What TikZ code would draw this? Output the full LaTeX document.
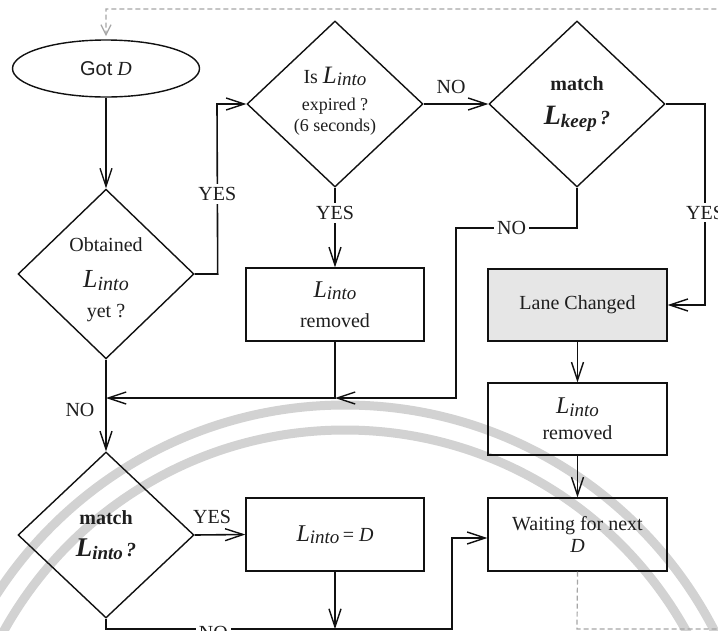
\documentclass[tikz,border=0pt]{standalone}
\usepackage{fontspec}
\setmainfont{Liberation Serif}
\newfontfamily\arialfont{Liberation Sans}
\usetikzlibrary{shapes.geometric,arrows.meta}
\definecolor{txt}{HTML}{1E1E1E}
\definecolor{ln}{HTML}{111111}
\definecolor{boxgray}{HTML}{E6E6E6}
\definecolor{dashgray}{HTML}{A6A6A6}
\definecolor{wmgray}{HTML}{D2D2D2}
\newcommand{\Lsub}[3]{{\fontsize{#1}{#1}\selectfont L}\raisebox{-2.5pt}{\fontsize{#2}{#2}\selectfont #3}}
\begin{document}
\begin{tikzpicture}[x=1pt,y=-1pt,
  decision/.style={diamond, draw=ln, line width=1.4pt, minimum width=176pt, minimum height=166pt,
    inner sep=0pt, align=center, text=txt, font=\fontsize{20}{24}\selectfont},
  procbox/.style={rectangle, draw=ln, line width=1.4pt, minimum width=178pt, minimum height=73pt,
    inner sep=0pt, align=center, text=txt, font=\fontsize{20}{24}\selectfont},
  terminal/.style={ellipse, draw=ln, line width=1.4pt, minimum width=187pt, minimum height=57pt,
    inner sep=0pt, text=txt, font=\fontsize{20}{24}\selectfont},
  conn/.style={draw=ln, line width=1.6pt, -{Straight Barb[length=18pt,width=12pt,line width=1.4pt]}},
  lab/.style={fill=white, inner sep=3pt, text=txt, font=\fontsize{20}{22}\selectfont},
  plainlab/.style={inner sep=0pt, text=txt, font=\fontsize{20}{22}\selectfont},
  loop/.style={draw=dashgray, line width=1.2pt, dash pattern=on 5pt off 3pt},
  wm/.style={draw=wmgray, line width=9pt}]
\useasboundingbox (0,0) rectangle (718,630);
\fill[white] (0,0) rectangle (718,630);
% watermark arcs
\begin{scope}
\clip (0,0) rectangle (718,630);
\draw[wm] (345,820) circle[radius=415];
\draw[wm] (345,820) circle[radius=390];
\end{scope}

% nodes
\node[terminal] (got) at (106,68.5) {{\arialfont Got} \textit{D}};
\node[decision] (d1) at (106,274) {\\[2pt]Obtained\\[12pt] \itshape\Lsub{26}{20}{into}\\[6pt] yet ?};
\node[decision] (d2) at (335,104) {Is \itshape\Lsub{25}{19}{into}\\[3pt] {\fontsize{18}{20}\selectfont expired ?}\\[-3pt] {\fontsize{18}{20}\selectfont (6 seconds)}\\[-14pt]\mbox{}};
\node[decision] (d3) at (577,104) {\textbf{match}\\[10pt] \bfseries\itshape\Lsub{28}{19}{keep}\,?};
\node[decision] (d4) at (106,535) {\textbf{match}\\[8pt] \bfseries\itshape\Lsub{27}{19}{into}\,?};
\node[procbox] (b1) at (335,304.5) {\itshape\Lsub{24}{19}{into}\\[6pt] removed};
\node[procbox, fill=boxgray, minimum width=179pt, minimum height=72pt] (lc) at (577.5,305) {Lane Changed};
\node[procbox, minimum width=179pt, minimum height=72pt] (b2) at (577.5,419) {\itshape\Lsub{24}{19}{into}\\[2pt] removed};
\node[procbox, minimum width=179pt] (wait) at (577.5,534.5) {Waiting for next\\[-2pt] \textit{D}};
\node[procbox] (b3) at (335,534.5) {\itshape\Lsub{24}{19}{into}\upshape\,= \itshape D};

% junction coordinates
\coordinate (j1) at (335,398);
\coordinate (j2) at (106,398);
\coordinate (j3) at (335,629);
\coordinate (bl) at (106,629);
\coordinate (br) at (452,629);

% connectors
\draw[conn] (got.south) -- (d1.north);
\draw[conn] (d1.east) -- ++(23,0) -- node[lab,pos=0.47]{YES} (217,104) -- (d2.west);
\draw[conn] (d2.east) -- (d3.west);
\node[plainlab] (no1) at (451,87) {NO};
\draw[conn] (d2.south) -- node[lab,pos=0.32]{YES} (b1.north);
\draw[conn] (d3.south) -- (577,228) -- node[lab,pos=0.54]{NO} (456,228) -- (456,398) -- (j1);
\draw[conn] (d3.east) -- (705,104) -- node[lab,pos=0.54]{YES} (705,305) -- (lc.east);
\draw[conn] (b1.south) -- (j1) -- (j2);
\draw[conn] (d1.south) -- (d4.north);
\node[plainlab] (no2) at (80,410) {NO};
\draw[conn] (lc.south) -- (b2.north);
\draw[conn] (b2.south) -- (wait.north);
\draw[conn] (d4.east) -- (b3.west);
\node[plainlab] (yes4) at (212,517) {YES};
\draw[conn] (b3.south) -- (j3);
\draw[conn] (d4.south) -- (bl) -- node[lab,pos=0.31,yshift=-4pt]{NO} (br) -- (452,538) -- (wait.west |- 452,538);
% dashed loop back
\draw[loop, -{Straight Barb[length=10pt,width=10pt,line width=1.2pt]}] (wait.south) -- (577,629) -- (740,629) -- (740,9) -- (106,9) -- (106,36);
\end{tikzpicture}
\end{document}
